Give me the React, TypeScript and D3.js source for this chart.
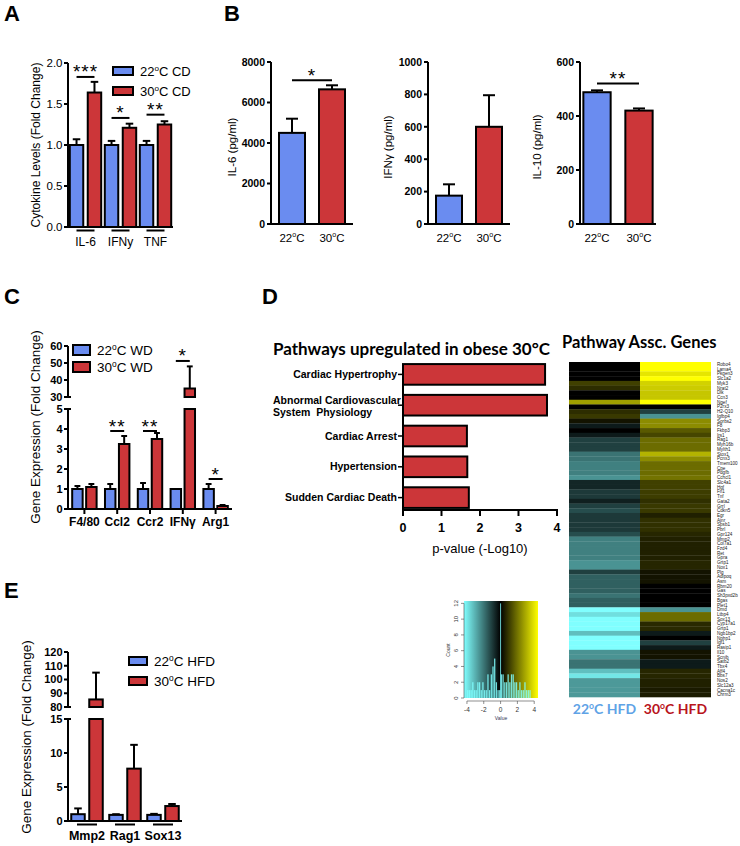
import React from "react";
import * as d3 from "d3";

const FONT = "'Liberation Sans', Arial, Helvetica, sans-serif";
const CAL = "Lato, 'Open Sans', sans-serif";
const BLUE = "#6a8cf0";
const RED = "#cc3639";
const SW = 2;

// ---------- Panel A data
const aCats = ["IL-6", "IFNy", "TNF"];
const a22 = [1.0, 1.0, 1.0];
const a22Err = [0.07, 0.05, 0.05];
const a30 = [1.64, 1.21, 1.25];
const a30Err = [0.13, 0.05, 0.04];
const aSig = ["***", "*", "**"];
const aSigY = [1.83, 1.33, 1.37];
const aTicks = [0, 0.5, 1, 1.5, 2];

// ---------- Panel B data
const bTitles = ["IL-6 (pg/ml)", "IFNγ (pg/ml)", "IL-10 (pg/ml)"];
const bGroups = ["22", "30"];
const bMax = [8000, 1000, 600];
const bTicks = [
  [0, 2000, 4000, 6000, 8000],
  [0, 200, 400, 600, 800, 1000],
  [0, 200, 400, 600],
];
const b22 = [4500, 175, 488];
const b22Err = [700, 70, 7];
const b30 = [6650, 600, 420];
const b30Err = [200, 195, 8];
const bSig = ["*", "", "**"];
const bSigY = [7100, 0, 520];

// ---------- Panel C data
const cCats = ["F4/80", "Ccl2", "Ccr2", "IFNγ", "Arg1"];
const c22 = [1, 1, 1, 1, 1];
const c22Err = [0.15, 0.25, 0.3, 0, 0.25];
const c30 = [1.1, 3.25, 3.5, 35, 0.15];
const c30Err = [0.15, 0.4, 0.3, 13, 0.05];
const cSig = ["", "**", "**", "*", "*"];
const cSigY = [0, 3.9, 3.9, 51.2, 1.5];
const cLowTicks = [0, 1, 2, 3, 4, 5];
const cHighTicks = [30, 40, 50, 60];

// ---------- Panel D data
const dPathways = [
  "Cardiac Hypertrophy",
  "Abnormal Cardiovascular\nSystem  Physiology",
  "Cardiac Arrest",
  "Hypertension",
  "Sudden Cardiac Death",
];
const dValues = [3.69, 3.74, 1.66, 1.67, 1.71];
const dTicks = [0, 1, 2, 3, 4];

// ---------- Panel E data
const eCats = ["Mmp2", "Rag1", "Sox13"];
const e22 = [1.0, 0.9, 0.9];
const e22Err = [0.85, 0.1, 0.15];
const e30 = [85.5, 7.7, 2.2];
const e30Err = [19.5, 3.5, 0.3];
const eLowTicks = [0, 5, 10, 15];
const eHighTicks = [80, 90, 100, 110, 120];

// ---------- Heatmap data
const hmGenes = [
  "Robo4", "Lama4", "Pkgen3", "Slc1a2", "Myk3", "Nrat2", "Dlk", "Ccn3", "Ngef", "P2rx3",
  "H2-Q10", "Igfbp4", "Sorbs2", "F8", "Fkbp3", "Irs1", "Rag1", "Myh16b", "Mylth1", "Stox1",
  "Pcnx3", "Tmem100", "Cpe", "Pdgfb", "Cchcl1", "Slc4a1", "Hgf", "Fn1", "Tnf", "Gata2",
  "Grrl", "Cdkn5", "Egr", "Ajnr", "Spsb1", "Pbrl", "Gpr124", "Mmp2", "Col7a1", "Fzd4",
  "Ret", "Gpra", "Grtp1", "Nox1", "Plg", "Adipoq", "Asm", "Rbm20", "Gas", "Sh3pxd2b",
  "Bgas", "Plet1", "Dmd", "Ltbp4", "Sox13", "Cyp17a1", "Grtp1", "Ngb1bp2", "Nphp1", "Igf1",
  "Rasip1", "Il10", "Scnib", "Satb2", "Tbx4", "Aff4", "Bbs7", "Nos2", "Slc12a3", "Cacna1c",
  "Chrm3",
];
const hm22 = [
  0, 0, 0, 0, 1.0, 0.7, 0, 0, 2.5, 0,
  0.7, 0.9, 0.3, -0.4, 0, -0.4, -1.0, -1.0, -1.0, -1.8,
  -1.8, -2.0, -2.0, -2.0, -2.3, -0.6, -0.6, -0.9, -0.9, -0.5,
  -1.0, -1.2, -0.9, -0.9, -0.9, -0.9, -1.2, -2.0, -2.0, -2.0,
  -2.0, -2.0, -2.3, -2.3, -1.0, -1.5, -1.5, -1.5, -1.5, -1.8,
  -1.5, -1.5, -4, -3.5, -4, -4, -4, -3.0, -4, -4,
  -4, -2.3, -2.3, -1.8, -1.8, -3.0, -3.6, -2.4, -2.4, -2.4,
  -2.4,
];
const hm30 = [
  4, 4, 3.6, 4, 3.3, 3.2, 3.1, 3.1, 4, 0,
  -1.0, -2.3, 2.2, 2.2, 1.4, 1.1, 1.7, 1.7, 1.7, 2.8,
  2.2, 1.7, 1.7, 1.7, 1.8, 1.0, 1.0, 0.95, 0.95, 0.75,
  0.9, 0.9, 0.5, 0.75, 0.75, 0.75, 0.6, 0.5, 0.5, 0.5,
  0.5, 0.5, 0.6, 0.6, 0.3, 0.3, 0.3, 0, 0, 0,
  0, 0, -2.3, 1.7, 1.7, 0.65, 0.65, -0.4, 0, -1.0,
  -0.4, 0.3, 0.3, -0.4, -0.4, 0.6, 0.6, 0.5, 0.5, 0.4,
  0.4,
];
const hmGroups = ["22", "30"];
// colour-key histogram (bin centres and counts)
const histCenters = [
  -3.9, -3.7, -3.5, -3.3, -3.1, -2.9, -2.7, -2.5, -2.3, -2.1,
  -1.9, -1.7, -1.5, -1.3, -1.1, -0.9, -0.7, -0.5, -0.3, -0.1,
  0.1, 0.3, 0.5, 0.7, 0.9, 1.1, 1.3, 1.5, 1.7, 1.9,
  2.1, 2.3, 2.5, 2.7, 2.9, 3.1, 3.3, 3.5, 3.7, 3.9,
];
const histCounts = [
  1, 1, 1, 2, 1, 1, 2, 2, 1, 2,
  1, 1, 3, 1, 3, 4, 5, 2, 1, 1,
  3, 3, 2, 2, 3, 2, 3, 3, 2, 2,
  1, 2, 1, 1, 2, 1, 1, 1, 0, 0,
];
const keyTicksX = [-4, -2, 0, 2, 4];
const keyTicksY = [0, 2, 4, 6, 8, 10, 12];

// ---------------- helpers
type Seg = { d: [number, number]; r: [number, number]; ticks: number[] };

function pieceY(segs: Seg[]) {
  const sc = segs.map((s) => d3.scaleLinear().domain(s.d).range(s.r));
  const f = (v: number) => {
    for (let i = 0; i < segs.length; i++) {
      if (v <= segs[i].d[1] || i === segs.length - 1) return sc[i](v);
    }
    return 0;
  };
  return { f, sc };
}

function Deg({ pre, post }: { pre: string; post: string }) {
  return (
    <>
      <tspan>{pre}</tspan>
      <tspan dy={-5} fontSize="0.62em">o</tspan>
      <tspan dy={5}>{post}</tspan>
    </>
  );
}

function Legend({ x, y, w, h, gap, labels, fs }: any) {
  return (
    <g>
      {[BLUE, RED].map((c, i) => (
        <g key={i}>
          <rect x={x} y={y + i * gap} width={w} height={h} fill={c} stroke="#000" strokeWidth={SW} />
          <text x={x + w + 7} y={y + i * gap + h / 2 + fs * 0.36} fontSize={fs}>
            <Deg pre={labels[i][0]} post={labels[i][1]} />
          </text>
        </g>
      ))}
    </g>
  );
}

function Stars({ x1, x2, y, s, fs = 19 }: any) {
  if (!s) return null;
  return (
    <g>
      <line x1={x1} x2={x2} y1={y} y2={y} stroke="#000" strokeWidth={SW} />
      <text x={(x1 + x2) / 2} y={y + 1.5} fontSize={fs} textAnchor="middle" letterSpacing={1}>
        {s}
      </text>
    </g>
  );
}

function GroupBars(p: any) {
  const x = d3.scaleBand().domain(p.cats).range(p.xr);
  const sub = d3
    .scaleBand()
    .domain(["a", "b"])
    .range([0, x.bandwidth()])
    .paddingInner(p.pIn)
    .paddingOuter(p.pOut);
  const segs: Seg[] = p.segs;
  const Y = pieceY(segs);
  const base = segs[0].r[0];
  const w = sub.bandwidth();
  const els: any[] = [];
  p.cats.forEach((c: string, i: number) => {
    const series: any[] = [
      [p.m22, p.e22, BLUE, "a"],
      [p.m30, p.e30, RED, "b"],
    ];
    series.forEach(([m, e, col, k]) => {
      const xl = (x(c) as number) + (sub(k) as number);
      const v = m[i];
      segs.forEach((s, j) => {
        if (j > 0 && v <= s.d[0]) return;
        const top = Math.min(v, s.d[1]);
        els.push(
          <rect
            key={`r${i}${k}${j}`}
            x={xl}
            y={Y.sc[j](top)}
            width={w}
            height={Y.sc[j](s.d[0]) - Y.sc[j](top)}
            fill={col}
            stroke="#000"
            strokeWidth={SW}
          />
        );
      });
      if (e[i] > 0) {
        const y0 = Y.f(v);
        const y1 = Y.f(v + e[i]);
        const cx = xl + w / 2;
        els.push(<line key={`e${i}${k}`} x1={cx} x2={cx} y1={y0} y2={y1} stroke="#000" strokeWidth={SW} />);
        els.push(
          <line key={`c${i}${k}`} x1={cx - w * 0.28} x2={cx + w * 0.28} y1={y1} y2={y1} stroke="#000" strokeWidth={SW} />
        );
      }
    });
    if (p.sig && p.sig[i]) {
      const xa = (x(c) as number) + (sub("a") as number) + w / 2;
      const xb = (x(c) as number) + (sub("b") as number) + w / 2;
      els.push(<Stars key={`s${i}`} x1={xa} x2={xb} y={Y.f(p.sigY[i])} s={p.sig[i]} />);
    }
  });
  const ax = p.xr[0];
  const axis: any[] = [];
  segs.forEach((s, j) => {
    axis.push(
      <line key={`ax${j}`} x1={ax} x2={ax} y1={s.r[0] + (j === 0 ? 1 : 0)} y2={s.r[1]} stroke="#000" strokeWidth={SW} />
    );
    s.ticks.forEach((t) => {
      const ty = Y.sc[j](t);
      const isBreak = segs.length > 1 && ((j === 0 && t === s.d[1]) || (j === 1 && t === s.d[0]));
      axis.push(
        <line key={`t${j}${t}`} x1={ax - 4} x2={isBreak ? ax + 3 : ax} y1={ty} y2={ty} stroke="#000" strokeWidth={SW} />
      );
      axis.push(
        <text
          key={`tl${j}${t}`}
          x={ax - 5.5}
          y={ty}
          dy="0.36em"
          fontSize={p.tickFs}
          fontWeight={p.tickBold ? "bold" : "normal"}
          textAnchor="end"
        >
          {p.tickFmt(t)}
        </text>
      );
    });
  });
  axis.push(<line key="xa" x1={ax - 1} x2={p.xr[1]} y1={base} y2={base} stroke="#000" strokeWidth={SW} />);
  p.cats.forEach((c: string, i: number) => {
    const cx = (x(c) as number) + x.bandwidth() / 2;
    if (p.underline) {
      axis.push(
        <line key={`u${i}`} x1={cx - p.underline / 2} x2={cx + p.underline / 2} y1={base + 3.5} y2={base + 3.5} stroke="#000" strokeWidth={SW} />
      );
    }
    if (p.catTicks) {
      axis.push(<line key={`ct${i}`} x1={cx} x2={cx} y1={base} y2={base + 5} stroke="#000" strokeWidth={SW} />);
    }
    axis.push(
      <text
        key={`cl${i}`}
        x={cx}
        y={p.labelY}
        fontSize={p.labelFs}
        fontWeight={p.labelBold ? "bold" : "normal"}
        textAnchor="middle"
      >
        {c}
      </text>
    );
  });
  return (
    <g>
      {els}
      {axis}
    </g>
  );
}

function PanelLetter({ x, y, t }: any) {
  return (
    <text x={x} y={y} fontSize={22} fontWeight="bold">
      {t}
    </text>
  );
}

function YTitle({ x, y, t, fs }: any) {
  return (
    <text transform={`translate(${x},${y}) rotate(-90)`} textAnchor="middle" fontSize={fs}>
      {t}
    </text>
  );
}

// ---------------- Panels
function PanelA() {
  const fmt = d3.format(".1f");
  return (
    <g>
      <PanelLetter x={4} y={21} t="A" />
      <YTitle x={40} y={145} t="Cytokine Levels (Fold  Change)" fs={12} />
      <GroupBars
        cats={aCats}
        m22={a22}
        e22={a22Err}
        m30={a30}
        e30={a30Err}
        xr={[68, 173]}
        pIn={0.25}
        pOut={0.1}
        segs={[{ d: [0, 2], r: [227, 63], ticks: aTicks }]}
        tickFmt={fmt}
        tickFs={11.5}
        tickBold={false}
        sig={aSig}
        sigY={aSigY}
        labelY={246}
        labelFs={12}
        labelBold={false}
        underline={18}
      />
      <Legend x={113} y={67} w={20} h={8} gap={20} fs={13} labels={[["22", "C CD"], ["30", "C CD"]]} />
    </g>
  );
}

function PanelB() {
  const axes = [
    { ax: 271, end: 353, pOut: 0.2 },
    { ax: 428, end: 510, pOut: 0.2 },
    { ax: 580, end: 656, pOut: 0.08 },
  ];
  const titleX = [236, 392, 541];
  return (
    <g>
      <PanelLetter x={224} y={21} t="B" />
      {bTitles.map((t, i) => {
        const { ax, end, pOut } = axes[i];
        const x = d3.scaleBand().domain(bGroups).range([ax, end]).paddingInner(0.35).paddingOuter(pOut);
        const y = d3.scaleLinear().domain([0, bMax[i]]).range([224, 62]);
        const w = x.bandwidth();
        const bars = [
          { k: "22", v: b22[i], e: b22Err[i], c: BLUE },
          { k: "30", v: b30[i], e: b30Err[i], c: RED },
        ];
        return (
          <g key={i}>
            <YTitle x={titleX[i]} y={147} t={t} fs={11.5} />
            {bars.map((b) => {
              const xl = x(b.k) as number;
              const cx = xl + w / 2;
              return (
                <g key={b.k}>
                  <rect x={xl} y={y(b.v)} width={w} height={y(0) - y(b.v)} fill={b.c} stroke="#000" strokeWidth={SW} />
                  <line x1={cx} x2={cx} y1={y(b.v)} y2={y(b.v + b.e)} stroke="#000" strokeWidth={SW} />
                  <line x1={cx - 6} x2={cx + 6} y1={y(b.v + b.e)} y2={y(b.v + b.e)} stroke="#000" strokeWidth={SW} />
                  <text x={cx} y={242} fontSize={11.5} textAnchor="middle">
                    <Deg pre={b.k} post="C" />
                  </text>
                </g>
              );
            })}
            {bSig[i] ? (
              <Stars
                x1={(x("22") as number) + w / 2}
                x2={(x("30") as number) + w / 2}
                y={y(bSigY[i])}
                s={bSig[i]}
              />
            ) : null}
            <line x1={ax} x2={ax} y1={y(0) + 1} y2={y(bMax[i])} stroke="#000" strokeWidth={SW} />
            <line x1={ax - 1} x2={end} y1={y(0)} y2={y(0)} stroke="#000" strokeWidth={SW} />
            {bTicks[i].map((t) => (
              <g key={t}>
                <line x1={ax - 4} x2={ax} y1={y(t)} y2={y(t)} stroke="#000" strokeWidth={SW} />
                <text x={ax - 6} y={y(t)} dy="0.36em" fontSize={10.5} fontWeight="bold" textAnchor="end">
                  {t}
                </text>
              </g>
            ))}
          </g>
        );
      })}
    </g>
  );
}

function PanelC() {
  return (
    <g>
      <PanelLetter x={4} y={304} t="C" />
      <YTitle x={40} y={427} t="Gene Expression (Fold Change)" fs={13.5} />
      <GroupBars
        cats={cCats}
        m22={c22}
        e22={c22Err}
        m30={c30}
        e30={c30Err}
        xr={[68, 232]}
        pIn={0.25}
        pOut={0.3}
        segs={[
          { d: [0, 5], r: [509, 409], ticks: cLowTicks },
          { d: [30, 60], r: [397, 346], ticks: cHighTicks },
        ]}
        tickFmt={(t: number) => String(t)}
        tickFs={11}
        tickBold={true}
        sig={cSig}
        sigY={cSigY}
        labelY={526}
        labelFs={12}
        labelBold={true}
        catTicks={true}
      />
      <Legend x={73} y={345} w={17} h={10} gap={17} fs={13.5} labels={[["22", "C WD"], ["30", "C WD"]]} />
    </g>
  );
}

function PanelD() {
  const y = d3.scaleBand().domain(dPathways).range([359, 513]).paddingInner(0.33).paddingOuter(0.165);
  const x = d3.scaleLinear().domain([0, 4]).range([403, 557]);
  return (
    <g>
      <PanelLetter x={262} y={304} t="D" />
      <text x={273} y={355} fontFamily={CAL} fontWeight="bold" fontSize={17}>
        Pathways upregulated in obese 30°C
      </text>
      {dPathways.map((p, i) => {
        const yt = y(p) as number;
        const cy = yt + y.bandwidth() / 2;
        const lines = p.split("\n");
        return (
          <g key={p}>
            <rect x={x(0)} y={yt} width={x(dValues[i]) - x(0)} height={y.bandwidth()} fill={RED} stroke="#000" strokeWidth={SW} />
            <line x1={x(0) - 5} x2={x(0)} y1={cy} y2={cy} stroke="#000" strokeWidth={1.5} />
            {lines.length === 1 ? (
              <text x={x(0) - 6} y={cy} dy="0.35em" fontSize={10.5} fontWeight="bold" textAnchor="end">
                {p}
              </text>
            ) : (
              lines.map((l, j) => (
                <text key={j} x={273} y={cy - 1.5 + j * 12.5} fontSize={10.5} fontWeight="bold" xmlSpace="preserve">
                  {l}
                </text>
              ))
            )}
          </g>
        );
      })}
      <line x1={x(0)} x2={x(0)} y1={367} y2={511} stroke="#000" strokeWidth={SW} />
      <line x1={x(0) - 1} x2={x(4) + 1} y1={510} y2={510} stroke="#000" strokeWidth={SW} />
      {dTicks.map((t) => (
        <g key={t}>
          <line x1={x(t)} x2={x(t)} y1={510} y2={516} stroke="#000" strokeWidth={SW} />
          <text x={x(t)} y={532} fontSize={12.5} fontWeight="bold" textAnchor="middle">
            {t}
          </text>
        </g>
      ))}
      <text x={480} y={553} fontSize={13} textAnchor="middle">
        p-value (-Log10)
      </text>
    </g>
  );
}

function Heatmap() {
  const x = d3.scaleBand().domain(hmGroups).range([569, 711]);
  const y = d3.scaleBand().domain(hmGenes.map((g, i) => `${i}`)).range([362, 697]);
  const col = d3
    .scaleLinear<string>()
    .domain([-4, 0, 4])
    .range(["#80ffff", "#000000", "#ffff00"])
    .clamp(true);
  const kx = d3.scaleLinear().domain([-4.35, 4.45]).range([464, 538]);
  const ky = d3.scaleLinear().domain([0, 12.3]).range([698, 601]);
  const zeroFrac = (kx(0) - 464) / (538 - 464);
  return (
    <g>
      <text x={562} y={348} fontFamily={CAL} fontWeight="bold" fontSize={16.5}>
        Pathway Assc. Genes
      </text>
      {hmGenes.map((g, i) => (
        <g key={i}>
          <rect x={x("22")} y={y(`${i}`)} width={x.bandwidth()} height={y.bandwidth() + 0.3} fill={col(hm22[i])} />
          <rect x={x("30")} y={y(`${i}`)} width={x.bandwidth()} height={y.bandwidth() + 0.3} fill={col(hm30[i])} />
          <text x={717} y={(y(`${i}`) as number) + y.bandwidth() / 2} dy="0.35em" fontSize={4.6} fill="#222">
            {g}
          </text>
        </g>
      ))}
      <text x={(x("22") as number) + x.bandwidth() / 2} y={714} textAnchor="middle" fontFamily={CAL} fontWeight="bold" fontSize={14} fill="#5fa3e6">
        <Deg pre="22" post="C HFD" />
      </text>
      <text x={(x("30") as number) + x.bandwidth() / 2} y={714} textAnchor="middle" fontFamily={CAL} fontWeight="bold" fontSize={14} fill="#b8141c">
        <Deg pre="30" post="C HFD" />
      </text>

      {/* colour key */}
      <defs>
        <linearGradient id="keyGrad" x1="0" x2="1" y1="0" y2="0">
          <stop offset="0" stopColor="#80ffff" />
          <stop offset={zeroFrac} stopColor="#000000" />
          <stop offset="1" stopColor="#ffff00" />
        </linearGradient>
      </defs>
      <rect x={464} y={601} width={74} height={97} fill="url(#keyGrad)" />
      {histCenters.map((c, i) =>
        histCounts[i] > 0 ? (
          <rect key={i} x={kx(c - 0.1) + 0.2} y={ky(histCounts[i])} width={kx(c + 0.1) - kx(c - 0.1) - 0.4} height={ky(0) - ky(histCounts[i])} fill="#80ffff" opacity={0.85} />
        ) : null
      )}
      <line x1={kx(0)} x2={kx(0)} y1={ky(0)} y2={ky(12)} stroke="#80ffff" strokeWidth={0.8} />
      <line x1={464} x2={464} y1={ky(0)} y2={ky(12)} stroke="#444" strokeWidth={0.6} />
      {keyTicksY.map((t) => (
        <g key={t}>
          <line x1={461} x2={464} y1={ky(t)} y2={ky(t)} stroke="#444" strokeWidth={0.6} />
          <text transform={`translate(458,${ky(t)}) rotate(-90)`} textAnchor="middle" fontSize={6} fill="#333">
            {t}
          </text>
        </g>
      ))}
      <line x1={kx(-4)} x2={kx(4)} y1={701} y2={701} stroke="#444" strokeWidth={0.6} />
      {keyTicksX.map((t) => (
        <g key={t}>
          <line x1={kx(t)} x2={kx(t)} y1={701} y2={704} stroke="#444" strokeWidth={0.6} />
          <text x={kx(t)} y={712} textAnchor="middle" fontSize={6.5} fill="#333">
            {t}
          </text>
        </g>
      ))}
      <text transform="translate(450,650) rotate(-90)" textAnchor="middle" fontSize={5} fill="#333">
        Count
      </text>
      <text x={501} y={720} textAnchor="middle" fontSize={5} fill="#335">
        Value
      </text>
    </g>
  );
}

function PanelE() {
  return (
    <g>
      <PanelLetter x={4} y={598} t="E" />
      <YTitle x={31} y={737} t="Gene Expression (Fold Change)" fs={13.5} />
      <GroupBars
        cats={eCats}
        m22={e22}
        e22={e22Err}
        m30={e30}
        e30={e30Err}
        xr={[68, 182]}
        pIn={0.25}
        pOut={0.18}
        segs={[
          { d: [0, 15], r: [821, 719], ticks: eLowTicks },
          { d: [80, 120], r: [707, 652], ticks: eHighTicks },
        ]}
        tickFmt={(t: number) => String(t)}
        tickFs={11}
        tickBold={true}
        labelY={840}
        labelFs={12.5}
        labelBold={true}
        underline={20}
      />
      <Legend x={129} y={657} w={18} h={8} gap={20} fs={13.5} labels={[["22", "C HFD"], ["30", "C HFD"]]} />
    </g>
  );
}

export default function App() {
  return (
    <svg
      width={740}
      height={846}
      style={{ position: "absolute", left: 0, top: 0, background: "#fff" }}
      fontFamily={FONT}
    >
      <rect width={740} height={846} fill="#fff" />
      <PanelA />
      <PanelB />
      <PanelC />
      <PanelD />
      <Heatmap />
      <PanelE />
    </svg>
  );
}
